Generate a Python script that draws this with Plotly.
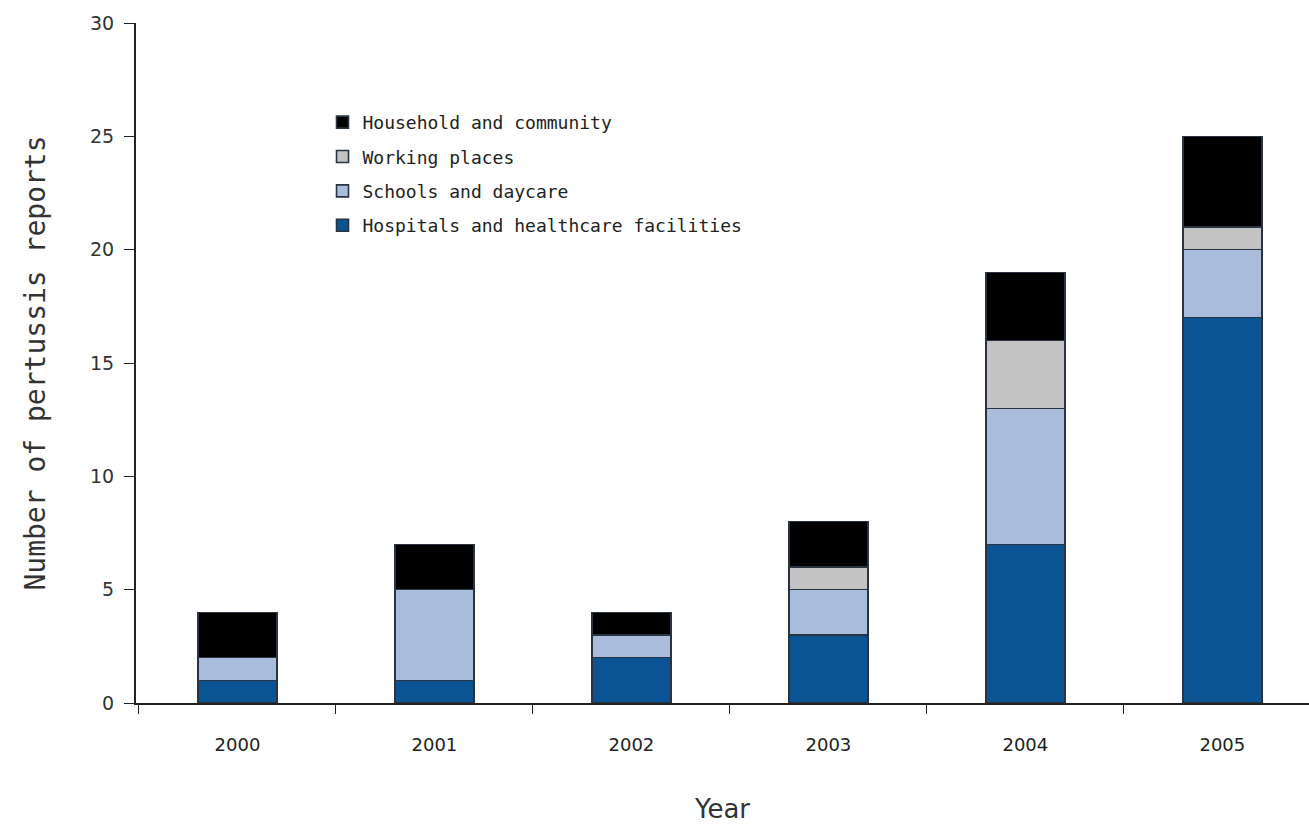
import plotly.graph_objects as go

years = ["2000", "2001", "2002", "2003", "2004", "2005"]
hospitals = [1, 1, 2, 3, 7, 17]
schools = [1, 4, 1, 2, 6, 3]
working = [0, 0, 0, 1, 3, 1]
household = [2, 2, 1, 2, 3, 4]

series = [
    ("Hospitals and healthcare facilities", hospitals, "#0b5494", 4),
    ("Schools and daycare", schools, "#a9bcdc", 3),
    ("Working places", working, "#c3c3c3", 2),
    ("Household and community", household, "#000000", 1),
]

fig = go.Figure()
for name, vals, col, rank in series:
    fig.add_trace(go.Bar(
        x=years, y=vals, name=name, legendgroup=name, legendrank=rank,
        marker=dict(color=col, line=dict(color="#2a3340", width=1.6)),
    ))

font_main = "DejaVu Sans Mono"
fig.update_layout(
    barmode="stack",
    bargap=0.6,
    width=1309, height=825,
    margin=dict(l=136, r=0, t=23, b=122),
    paper_bgcolor="white", plot_bgcolor="white",
    showlegend=True,
    legend=dict(
        x=0.159, y=0.881, xanchor="left", yanchor="top",
        traceorder="grouped", tracegroupgap=8,
        font=dict(family=font_main, size=18, color="#222"),
        bgcolor="rgba(0,0,0,0)", itemwidth=30,
    ),
    xaxis=dict(
        range=[-0.515, 5.44], showline=True, linecolor="#222", linewidth=2,
        ticks="outside", tickson="boundaries", ticklen=9, tickcolor="#222",
        ticklabelstandoff=24,
        tickfont=dict(family="DejaVu Sans", size=18, color="#222"),
        title=dict(text="Year", font=dict(family="DejaVu Sans", size=26, color="#333"), standoff=46),
        showgrid=False, zeroline=False,
    ),
    yaxis=dict(
        range=[0, 30], tickvals=[0, 5, 10, 15, 20, 25, 30], showline=True,
        linecolor="#222", linewidth=2, ticks="outside", ticklen=10, tickcolor="#222",
        ticklabelstandoff=6,
        tickfont=dict(family="DejaVu Sans", size=19, color="#333"),
        title=dict(text="Number of pertussis reports", font=dict(family=font_main, size=28, color="#333"), standoff=36),
        showgrid=False, zeroline=False,
    ),
)

fig.write_html("out.html")
